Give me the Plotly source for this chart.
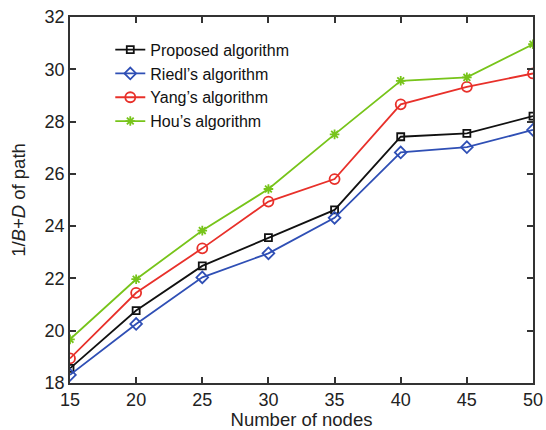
import plotly.graph_objects as go

nodes = [15, 20, 25, 30, 35, 40, 45, 50]
proposed = [18.56, 20.77, 22.48, 23.56, 24.62, 27.42, 27.55, 28.21]
riedl = [18.31, 20.26, 22.04, 22.96, 24.32, 26.82, 27.02, 27.68]
yang = [18.94, 21.45, 23.15, 24.94, 25.80, 28.66, 29.33, 29.84]
hou = [19.67, 21.97, 23.83, 25.42, 27.51, 29.56, 29.69, 30.96]

series_names = ["Proposed algorithm", "Riedl\u2019s algorithm", "Yang\u2019s algorithm", "Hou\u2019s algorithm"]
series_vals = [proposed, riedl, yang, hou]
colors = ["#111111", "#2f4fb5", "#e8302a", "#77c41a"]
symbols = ["square-open", "diamond-open", "circle-open", "asterisk-open"]
sizes = [7, 9, 10, 8]

y_ticks = [18, 20, 22, 24, 26, 28, 30, 32]

fig = go.Figure()
for name, vals, c, s, sz in zip(series_names, series_vals, colors, symbols, sizes):
    fig.add_trace(go.Scatter(
        x=nodes, y=vals, name=name, mode="lines+markers",
        line=dict(color=c, width=1.8),
        marker=dict(symbol=s, size=sz, color=c, line=dict(color=c, width=1.8)),
    ))

axis_common = dict(
    showline=True, linecolor="#333333", linewidth=1.5, mirror="ticks",
    ticks="inside", ticklen=6, tickcolor="#333333", tickwidth=1.5,
    showgrid=False, zeroline=False, automargin=False,
    tickfont=dict(family="Liberation Sans, Arial", size=18, color="#222222"),
)

fig.update_layout(
    template="none",
    width=546, height=430,
    paper_bgcolor="white", plot_bgcolor="white",
    margin=dict(l=70, r=13, t=17, b=47),
    font=dict(family="Liberation Sans, Arial", size=18, color="#222222"),
    xaxis=dict(range=[15, 50], tickvals=nodes,
               title=dict(text="Number of nodes", standoff=3,
                          font=dict(size=18.5)), **axis_common),
    yaxis=dict(range=[18, 32], tickvals=y_ticks,
               title=dict(text="1/<i>B</i>+<i>D</i> of path", standoff=14,
                          font=dict(size=18.5)), **axis_common),
    legend=dict(x=0.087, y=0.957, xanchor="left", yanchor="top",
                bgcolor="rgba(0,0,0,0)", borderwidth=0,
                font=dict(family="Liberation Sans, Arial", size=16, color="#111111"),
                itemwidth=30, tracegroupgap=0),
    showlegend=True,
)

fig.write_html("out.html", config={"displayModeBar": False},
               post_script="document.body.style.margin='0px';")
